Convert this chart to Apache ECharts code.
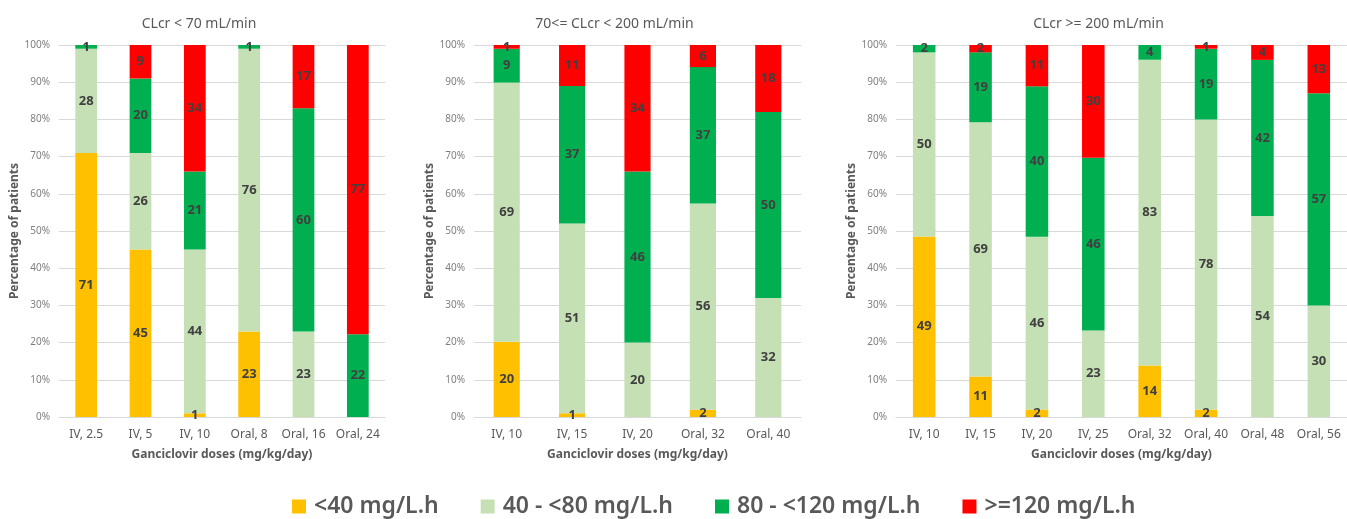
<!DOCTYPE html>
<html>
<head>
<meta charset="utf-8">
<script src="https://cdn.jsdelivr.net/npm/echarts@6/dist/echarts.min.js"></script>
<style>
html,body{margin:0;padding:0;background:#fff;}
#c{width:1347px;height:519px;}
</style>
</head>
<body>
<div id="c"></div>
<script>
// ---- Data ----
const seriesNames = ['<40 mg/L.h', '40 - <80 mg/L.h', '80 - <120 mg/L.h', '>=120 mg/L.h'];
const colors = ['#FFC000', '#C5E0B4', '#00B050', '#FF0000'];

const panelTitles = ['CLcr < 70 mL/min', '70<= CLcr < 200 mL/min', 'CLcr >= 200 mL/min'];

const p1Cats = ['IV, 2.5', 'IV, 5', 'IV, 10', 'Oral, 8', 'Oral, 16', 'Oral, 24'];
const p1Low  = [71, 45, 1, 23, 0, 0];
const p1Mid  = [28, 26, 44, 76, 23, 0];
const p1High = [1, 20, 21, 1, 60, 22];
const p1Top  = [0, 9, 34, 0, 17, 77];

const p2Cats = ['IV, 10', 'IV, 15', 'IV, 20', 'Oral, 32', 'Oral, 40'];
const p2Low  = [20, 1, 0, 2, 0];
const p2Mid  = [69, 51, 20, 56, 32];
const p2High = [9, 37, 46, 37, 50];
const p2Top  = [1, 11, 34, 6, 18];

const p3Cats = ['IV, 10', 'IV, 15', 'IV, 20', 'IV, 25', 'Oral, 32', 'Oral, 40', 'Oral, 48', 'Oral, 56'];
const p3Low  = [49, 11, 2, 0, 14, 2, 0, 0];
const p3Mid  = [50, 69, 46, 23, 83, 78, 54, 30];
const p3High = [2, 19, 40, 46, 4, 19, 42, 57];
const p3Top  = [0, 2, 11, 30, 0, 1, 4, 13];

const yTickLabels = ['0%', '10%', '20%', '30%', '40%', '50%', '60%', '70%', '80%', '90%', '100%'];
const xAxisTitle = 'Ganciclovir doses (mg/kg/day)';
const yAxisTitle = 'Percentage of patients';

// ---- Build ----
const panels = [
  { cats: p1Cats, vals: [p1Low, p1Mid, p1High, p1Top] },
  { cats: p2Cats, vals: [p2Low, p2Mid, p2High, p2Top] },
  { cats: p3Cats, vals: [p3Low, p3Mid, p3High, p3Top] }
];
const grids = [
  { left: 59, top: 45, width: 326, height: 372 },
  { left: 474, top: 45, width: 327, height: 372 },
  { left: 896, top: 45, width: 451, height: 372 }
];

const txt = '#595959';
const chart = echarts.init(document.getElementById('c'), null, { renderer: 'canvas' });

const titles = panelTitles.map((t, i) => ({
  text: t,
  left: grids[i].left + grids[i].width / 2 - 28,
  top: 12,
  textAlign: 'center',
  textStyle: { fontFamily: 'Noto Sans', fontSize: 14, fontWeight: 'normal', color: txt }
}));

const xAxes = panels.map((p, i) => ({
  type: 'category', gridIndex: i, data: p.cats,
  axisLine: { lineStyle: { color: '#D9D9D9' } },
  axisTick: { show: false },
  axisLabel: { color: txt, fontFamily: 'Noto Sans', fontSize: 12, margin: 12, interval: 0 },
  name: xAxisTitle, nameLocation: 'middle', nameGap: 32,
  nameTextStyle: { color: txt, fontFamily: 'Noto Sans', fontSize: 12, fontWeight: 'bold' }
}));

const yAxes = panels.map((p, i) => ({
  type: 'value', gridIndex: i, min: 0, max: 100, interval: 10,
  axisLine: { show: false }, axisTick: { show: false },
  axisLabel: {
    color: '#7F7F7F', fontFamily: 'Noto Sans', fontSize: 10, margin: 9,
    formatter: v => yTickLabels[Math.round(v / 10)]
  },
  splitLine: { lineStyle: { color: '#D9D9D9' } },
  name: yAxisTitle, nameLocation: 'middle', nameGap: 37, nameRotate: 90,
  nameTextStyle: { color: txt, fontFamily: 'Noto Sans', fontSize: 12, fontWeight: 'bold' }
}));

const series = [];
panels.forEach((p, pi) => {
  const totals = p.cats.map((_, ci) => p.vals.reduce((s, arr) => s + arr[ci], 0));
  p.vals.forEach((arr, si) => {
    series.push({
      name: seriesNames[si], type: 'bar', stack: 'p' + pi,
      xAxisIndex: pi, yAxisIndex: pi,
      barWidth: '40%',
      itemStyle: { color: colors[si] },
      data: arr.map((v, ci) => ({ value: v / totals[ci] * 100, raw: v })),
      label: {
        show: true, position: 'inside',
        color: '#404040', fontFamily: 'Noto Sans', fontSize: 13, fontWeight: 'bold',
        formatter: prm => prm.data.raw ? String(prm.data.raw) : ''
      },
      emphasis: { disabled: true },
      animation: false
    });
  });
});

chart.setOption({
  animation: false,
  title: titles,
  grid: grids,
  xAxis: xAxes,
  yAxis: yAxes,
  series: series,
  legend: {
    data: seriesNames,
    left: 287, top: 490,
    itemWidth: 14, itemHeight: 14, itemGap: 42,
    icon: 'rect',
    textStyle: { color: txt, fontFamily: 'Noto Sans', fontSize: 23, fontWeight: 600, padding: [0, 0, 0, 3] }
  }
});
</script>
</body>
</html>
